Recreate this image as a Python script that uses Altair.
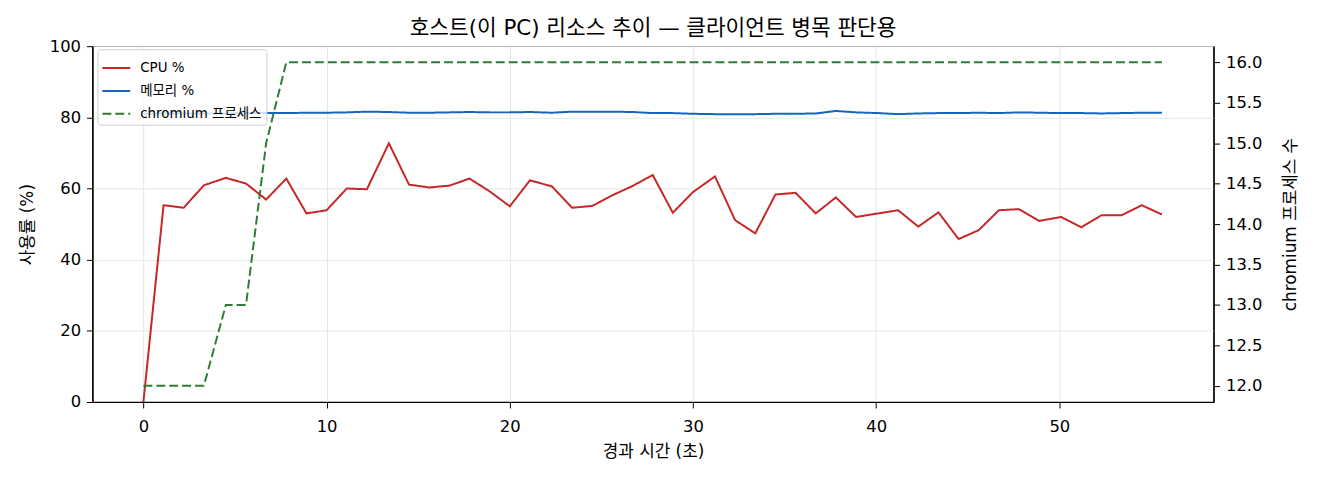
import pandas as pd
import altair as alt

FONT = 'DejaVu Sans, Noto Sans CJK KR'

# 경과 시간 (초)
times = [0.0, 1.1, 2.2, 3.3, 4.5, 5.6, 6.7, 7.8, 8.9, 10.0,
         11.1, 12.2, 13.4, 14.5, 15.6, 16.7, 17.8, 18.9, 20.0, 21.1,
         22.3, 23.4, 24.5, 25.6, 26.7, 27.8, 28.9, 30.0, 31.2, 32.3,
         33.4, 34.5, 35.6, 36.7, 37.8, 38.9, 40.1, 41.2, 42.3, 43.4,
         44.5, 45.6, 46.7, 47.8, 48.9, 50.1, 51.2, 52.3, 53.4, 54.5,
         55.6]

cpu = [0.0, 55.3, 54.6, 60.9, 63.0, 61.4, 56.9, 62.8, 53.0, 53.9,
       60.0, 59.8, 72.7, 61.1, 60.3, 60.8, 62.8, 59.2, 55.0, 62.3,
       60.6, 54.6, 55.1, 58.1, 60.7, 63.8, 53.2, 59.0, 63.4, 51.1,
       47.4, 58.3, 58.8, 53.0, 57.5, 52.0, 53.0, 53.9, 49.3, 53.3,
       45.8, 48.3, 53.9, 54.2, 50.9, 52.0, 49.1, 52.5, 52.5, 55.3,
       52.7]

memory = [81.0, 81.1, 81.1, 81.1, 81.1, 81.2, 81.2, 81.2, 81.3, 81.3,
          81.4, 81.6, 81.5, 81.3, 81.3, 81.4, 81.5, 81.4, 81.4, 81.5,
          81.3, 81.6, 81.6, 81.6, 81.5, 81.2, 81.2, 81.0, 80.9, 80.9,
          80.9, 81.0, 81.0, 81.1, 81.8, 81.4, 81.2, 80.9, 81.1, 81.2,
          81.2, 81.3, 81.2, 81.4, 81.3, 81.2, 81.2, 81.1, 81.2, 81.3,
          81.3]

chromium = [12, 12, 12, 12, 13, 13, 15, 16, 16, 16,
            16, 16, 16, 16, 16, 16, 16, 16, 16, 16,
            16, 16, 16, 16, 16, 16, 16, 16, 16, 16,
            16, 16, 16, 16, 16, 16, 16, 16, 16, 16,
            16, 16, 16, 16, 16, 16, 16, 16, 16, 16,
            16]

series_names = ['CPU %', '메모리 %', 'chromium 프로세스']
series_colors = ['#c62828', '#1565c0', '#2e7d32']
series_dash = [[1, 0], [1, 0], [9, 4]]

left_df = pd.concat([
    pd.DataFrame({'t': times, 'value': cpu, 'series': 'CPU %'}),
    pd.DataFrame({'t': times, 'value': memory, 'series': '메모리 %'}),
])
right_df = pd.DataFrame({'t': times, 'value': chromium, 'series': 'chromium 프로세스'})

legend = alt.Legend(
    orient='none', legendX=5, legendY=3, symbolType='stroke', symbolSize=784,
    symbolStrokeWidth=2, labelFontSize=13.5, labelFont=FONT, labelColor='black',
    labelOffset=9, rowPadding=1, padding=4, fillColor='rgba(255,255,255,0.8)',
    strokeColor='#d0d0d0', cornerRadius=3,
)
color = alt.Color('series:N', title=None,
                  scale=alt.Scale(domain=series_names, range=series_colors),
                  legend=legend)
dash = alt.StrokeDash('series:N', title=None,
                      scale=alt.Scale(domain=series_names, range=series_dash),
                      legend=legend)
x = alt.X('t:Q', scale=alt.Scale(domain=[-2.78, 58.42], nice=False, zero=False),
          axis=alt.Axis(values=[0, 10, 20, 30, 40, 50], title='경과 시간 (초)',
                        grid=True, format='d', labelPadding=11, titlePadding=8))

left = alt.Chart(left_df).mark_line(strokeWidth=2).encode(
    x=x,
    y=alt.Y('value:Q', scale=alt.Scale(domain=[0, 100], nice=False),
            axis=alt.Axis(values=[0, 20, 40, 60, 80, 100], title='사용률 (%)',
                          grid=True, titlePadding=13)),
    color=color,
    strokeDash=dash,
    order=alt.Order('t:Q'),
)

right = alt.Chart(right_df).mark_line(strokeWidth=2).encode(
    x=x,
    y=alt.Y('value:Q', scale=alt.Scale(domain=[11.8, 16.2], nice=False, zero=False),
            axis=alt.Axis(orient='right', values=[12, 12.5, 13, 13.5, 14, 14.5, 15, 15.5, 16],
                          format='.1f', title='chromium 프로세스 수', titleAngle=270,
                          titleBaseline='top', titlePadding=21, grid=False)),
    color=color,
    strokeDash=dash,
    order=alt.Order('t:Q'),
)

chart = alt.layer(left, right).resolve_scale(y='independent').properties(
    width=1128,
    height=358,
    autosize=alt.AutoSizeParams(type='none'),
    padding={'left': 85, 'top': 37, 'right': 99, 'bottom': 70},
    title=alt.TitleParams('호스트(이 PC) 리소스 추이 — 클라이언트 병목 판단용',
                          fontSize=21.5, fontWeight='normal', font=FONT,
                          color='black', offset=-1),
).configure_view(
    stroke='black', strokeWidth=1.2,
).configure_axis(
    labelFont=FONT, titleFont=FONT, labelFontSize=16.5, titleFontSize=17,
    titleFontWeight='normal', labelColor='black', titleColor='black',
    tickColor='black', tickSize=6, domainColor='black', domainWidth=1.2,
    gridColor='#e6e6e6', gridWidth=1, labelPadding=6,
)

chart.save('out.html', embed_options={'renderer': 'svg', 'actions': False})
